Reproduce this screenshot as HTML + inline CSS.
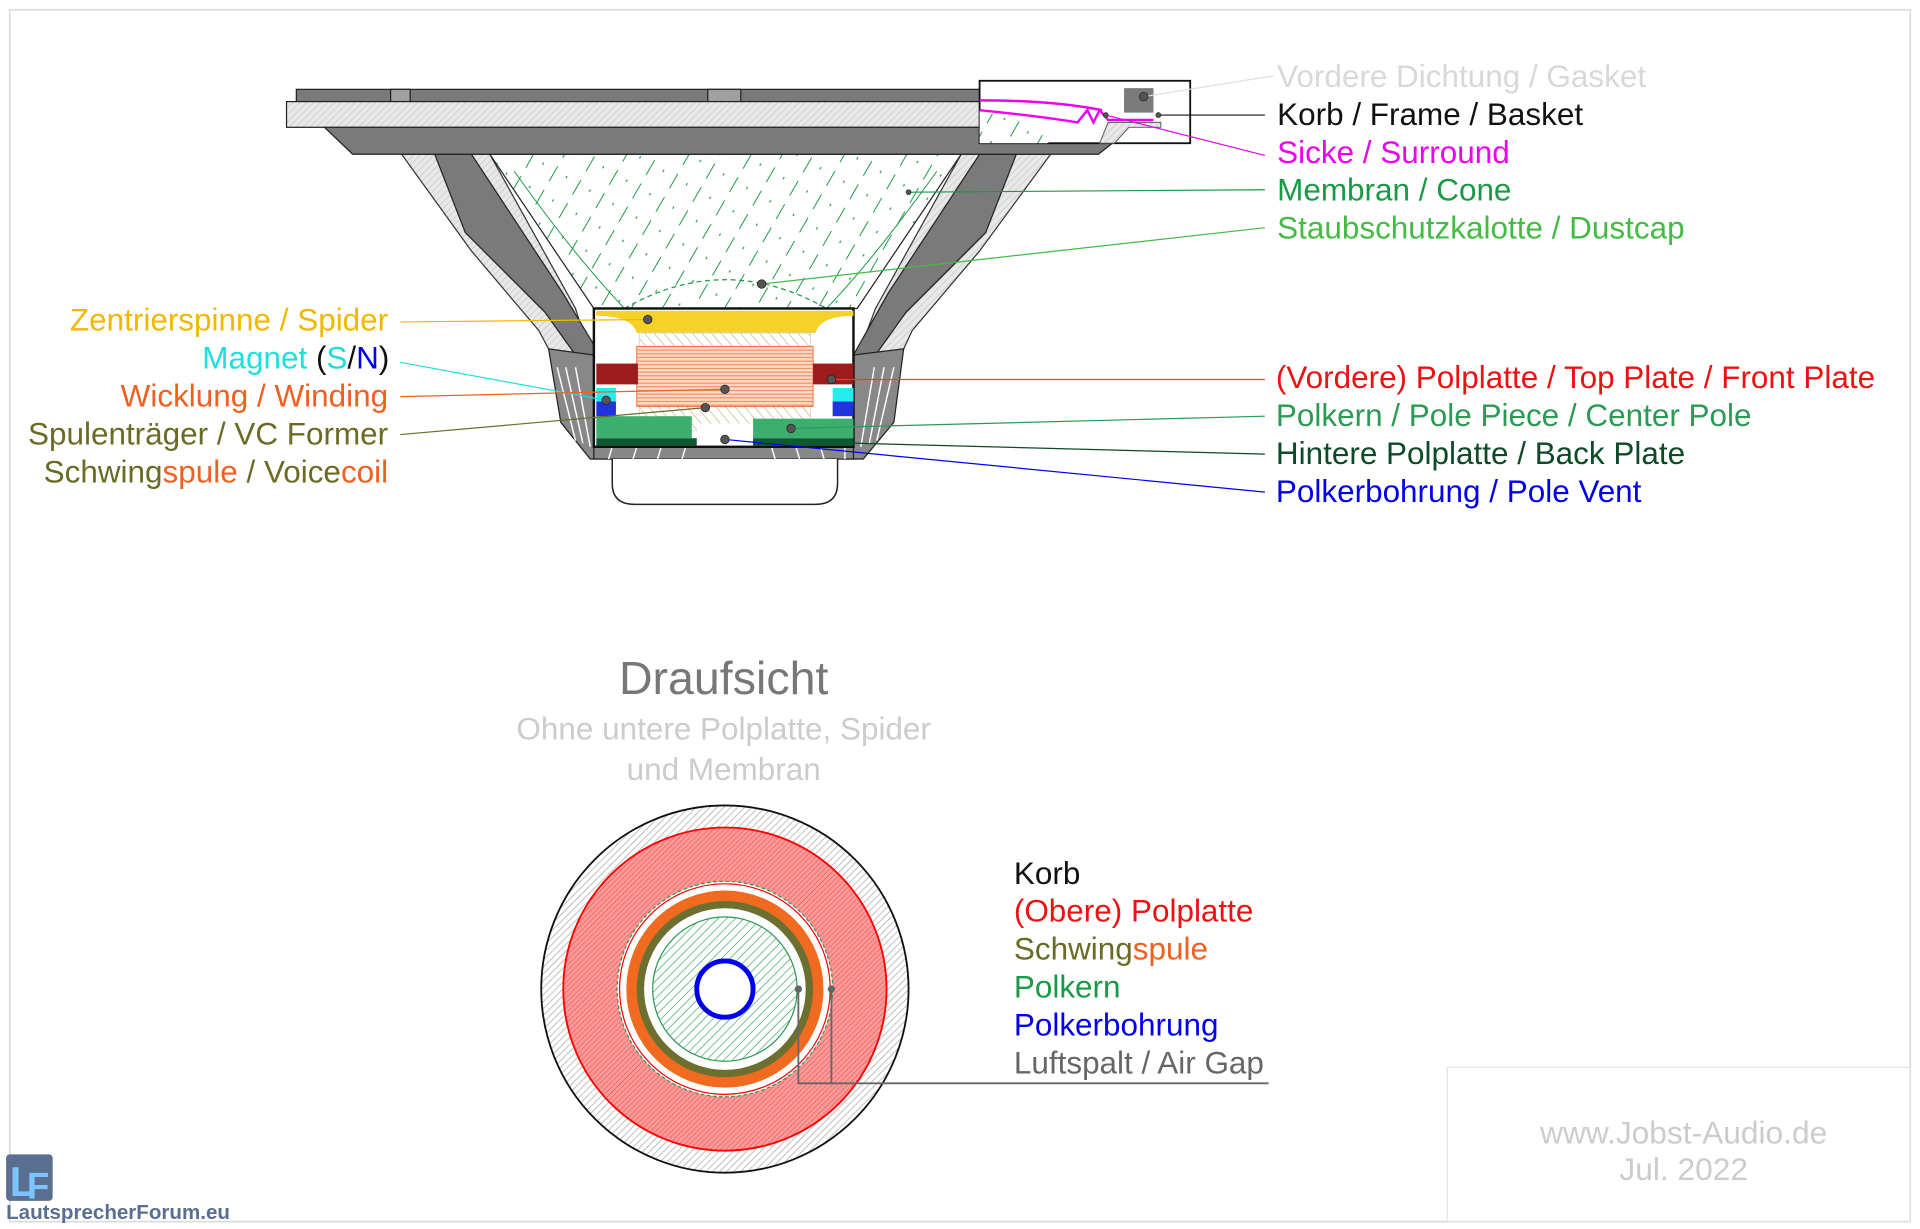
<!DOCTYPE html>
<html><head><meta charset="utf-8"><style>
html,body{margin:0;padding:0;background:#fff;}
svg{display:block;}
text{font-family:"Liberation Sans",Arial,sans-serif;}
</style></head><body>
<svg width="1920" height="1229" viewBox="0 0 1568 1004" preserveAspectRatio="none" xmlns="http://www.w3.org/2000/svg">
<defs>
<pattern id="hg" width="4" height="4" patternUnits="userSpaceOnUse" patternTransform="rotate(45)"><rect width="4" height="4" fill="#e8e8e8"/><line x1="0" y1="0" x2="0" y2="4" stroke="#c8c8c8" stroke-width="1.2"/></pattern>
<pattern id="hgd" width="4" height="4" patternUnits="userSpaceOnUse" patternTransform="rotate(45)"><rect width="4" height="4" fill="#fff"/><line x1="0" y1="0" x2="0" y2="4" stroke="#aaa" stroke-width="1.2"/></pattern>
<pattern id="hr" width="3" height="3" patternUnits="userSpaceOnUse" patternTransform="rotate(45)"><rect width="3" height="3" fill="#fa9a9a"/><line x1="0" y1="0" x2="0" y2="3" stroke="#f33" stroke-width="0.7"/></pattern>
<pattern id="hgr" width="5" height="5" patternUnits="userSpaceOnUse" patternTransform="rotate(45)"><rect width="5" height="5" fill="#fff"/><line x1="0" y1="0" x2="0" y2="5" stroke="#2a9a55" stroke-width="1"/></pattern>
<pattern id="cone" width="22" height="22" patternUnits="userSpaceOnUse" patternTransform="rotate(30)"><rect width="22" height="22" fill="#fff"/><line x1="0" y1="0" x2="0" y2="14" stroke="#1a9a45" stroke-width="1.6"/><line x1="11" y1="3" x2="11" y2="5" stroke="#1a9a45" stroke-width="1"/></pattern>
<pattern id="hol" width="6" height="6" patternUnits="userSpaceOnUse" patternTransform="rotate(-40)"><rect width="6" height="6" fill="#fff"/><line x1="0" y1="0" x2="0" y2="6" stroke="#b8b070" stroke-width="1"/></pattern>
<pattern id="hor" width="3" height="3" patternUnits="userSpaceOnUse"><rect width="3" height="3" fill="#fcd9c4"/><line x1="0" y1="1" x2="3" y2="1" stroke="#f08050" stroke-width="0.8"/></pattern>
</defs>
<rect x="8" y="8" width="1552" height="990" fill="none" stroke="#ddd" stroke-width="1.5"/>

<!-- basket arms -->
<polygon points="328,126 400,126 470,252 485,300 448,285 440,270 385,205" fill="url(#hg)" stroke="#333" stroke-width="1"/>
<polygon points="355,126 385,126 460,240 490,290 470,290 445,255 380,190" fill="#7a7a7a" stroke="#222" stroke-width="1"/>
<polygon points="858,126 785,126 715,252 697,300 738,285 745,270 800,205" fill="url(#hg)" stroke="#333" stroke-width="1"/>
<polygon points="830,126 800,126 725,240 697,290 715,290 740,255 805,190" fill="#7a7a7a" stroke="#222" stroke-width="1"/>
<!-- cone -->
<polygon points="400,126 785,126 700,252 485,252" fill="url(#cone)" stroke="#222" stroke-width="1"/>
<path d="M420,140 Q470,210 510,252 M765,140 Q715,210 675,252" stroke="#1a9a45" stroke-width="0.8" fill="none"/>
<path d="M510,252 Q592,205 675,252" stroke="#1a9a45" stroke-width="1" stroke-dasharray="4,3" fill="none"/>
<!-- top frame -->
<rect x="242" y="73" width="558" height="10" fill="#7a7a7a" stroke="#222"/>
<rect x="319" y="73" width="16" height="10" fill="#a0a0a0" stroke="#222"/>
<rect x="578" y="73" width="27" height="10" fill="#a0a0a0" stroke="#222"/>
<rect x="234" y="83" width="716" height="21" fill="url(#hg)" stroke="#222"/>
<polygon points="265,104 925,104 897,126 288,126" fill="#7a7a7a" stroke="#222"/>
<!-- inset box -->
<rect x="800" y="66" width="172" height="51" fill="#fff" stroke="#111" stroke-width="1.5"/>
<rect x="918" y="72" width="24" height="20" fill="#7a7a7a"/>
<polygon points="800,90 870,110 855,117 800,117" fill="url(#cone)"/>
<path d="M800,82 Q860,82 900,90 M800,90 Q850,95 880,100 L888,90 L893,100 L898,90 L905,98 L942,98" stroke="#e0e" stroke-width="2" fill="none"/>
<polygon points="905,100 948,100 948,104 922,104 910,117 898,117" fill="url(#hg)" stroke="#555" stroke-width="0.8"/>
<!-- fins/motor housing -->
<polygon points="448,285 485,290 485,365 497,375 482,375 458,345" fill="#888" stroke="#222"/>
<polygon points="738,285 697,290 697,365 690,375 705,375 730,345" fill="#888" stroke="#222"/>
<g stroke="#fff" stroke-width="1.2">
<line x1="455" y1="300" x2="470" y2="360"/><line x1="462" y1="300" x2="476" y2="362"/><line x1="470" y1="300" x2="482" y2="365"/>
<line x1="730" y1="300" x2="716" y2="360"/><line x1="722" y1="300" x2="710" y2="362"/><line x1="714" y1="300" x2="703" y2="365"/>
</g>
<rect x="485" y="365" width="212" height="10" fill="#888" stroke="#222"/>
<g stroke="#fff" stroke-width="1.2"><line x1="500" y1="365" x2="497" y2="375"/><line x1="520" y1="365" x2="517" y2="375"/><line x1="540" y1="365" x2="537" y2="375"/><line x1="560" y1="365" x2="557" y2="375"/><line x1="630" y1="365" x2="633" y2="375"/><line x1="650" y1="365" x2="653" y2="375"/><line x1="670" y1="365" x2="673" y2="375"/><line x1="690" y1="365" x2="690" y2="375"/></g>
<path d="M500,375 L500,395 Q500,412 518,412 L666,412 Q684,412 684,395 L684,375" fill="#fff" stroke="#222" stroke-width="1.2"/>
<!-- motor box -->
<rect x="485" y="252" width="212" height="113" fill="#fff" stroke="#111" stroke-width="2"/>
<path d="M487,254 L697,254 L697,258 Q670,258 666,272 L520,272 Q516,258 487,258 Z" fill="#f5d22a"/>
<rect x="520" y="257" width="145" height="15" fill="#f5d22a"/>
<rect x="522" y="272" width="140" height="80" fill="url(#hol)" stroke="#ccc" stroke-width="0.6"/>
<rect x="520" y="283" width="144" height="49" fill="url(#hor)" stroke="#f07040" stroke-width="0.8"/>
<rect x="487" y="297" width="34" height="17" fill="#9b1c1c"/>
<rect x="664" y="297" width="33" height="17" fill="#9b1c1c"/>
<rect x="487" y="317" width="16" height="11" fill="#22eeee"/><rect x="487" y="328" width="16" height="12" fill="#2233dd"/>
<rect x="680" y="317" width="17" height="11" fill="#22eeee"/><rect x="680" y="328" width="17" height="12" fill="#2233dd"/>
<rect x="487" y="340" width="78" height="18" fill="#3cae6e"/>
<rect x="615" y="342" width="82" height="16" fill="#3cae6e"/>
<rect x="569" y="346" width="46" height="16" fill="#fff"/>
<rect x="487" y="358" width="82" height="6" fill="#0d5a30"/><rect x="615" y="358" width="82" height="6" fill="#0d5a30"/>

<!-- leader lines -->
<g stroke-width="1" fill="none">
<line x1="934" y1="79" x2="1040" y2="62" stroke="#ddd"/>
<line x1="946" y1="94" x2="1033" y2="94" stroke="#111"/>
<line x1="903" y1="94" x2="1033" y2="127" stroke="#e0e"/>
<line x1="742" y1="157" x2="1033" y2="155" stroke="#1a9a45"/>
<line x1="622" y1="232" x2="1033" y2="186" stroke="#44bb44"/>
<line x1="529" y1="261" x2="327" y2="263" stroke="#f0b800"/>
<line x1="495" y1="327" x2="327" y2="296" stroke="#22dddd"/>
<line x1="592" y1="318" x2="327" y2="324" stroke="#f06020"/>
<line x1="576" y1="333" x2="327" y2="355" stroke="#6b6b25"/>
<line x1="679" y1="310" x2="1033" y2="310" stroke="#f33"/>
<line x1="646" y1="350" x2="1033" y2="340" stroke="#2a9a55"/>
<line x1="697" y1="362" x2="1033" y2="371" stroke="#0d4a28"/>
<line x1="592" y1="359" x2="1033" y2="402" stroke="#0000ee"/>
</g>
<g fill="#555" stroke="#222" stroke-width="0.6">
<circle cx="934" cy="79" r="3.5"/><circle cx="946" cy="94" r="2"/><circle cx="903" cy="94" r="2"/><circle cx="742" cy="157" r="2"/>
<circle cx="622" cy="232" r="3.5"/><circle cx="529" cy="261" r="3.5"/><circle cx="495" cy="327" r="3.5"/><circle cx="592" cy="318" r="3.5"/>
<circle cx="576" cy="333" r="3.5"/><circle cx="679" cy="310" r="3.5"/><circle cx="646" cy="350" r="3.5"/><circle cx="592" cy="359" r="3.5"/>
</g>

<!-- right labels -->
<g font-size="25.7">
<text x="1043" y="71" fill="#d8d8d8">Vordere Dichtung / Gasket</text>
<text x="1043" y="102" fill="#111">Korb / Frame / Basket</text>
<text x="1043" y="133" fill="#ee00ee">Sicke / Surround</text>
<text x="1043" y="164" fill="#1a9a45">Membran / Cone</text>
<text x="1043" y="195" fill="#44bb44">Staubschutzkalotte / Dustcap</text>
<text x="1042" y="317" fill="#ee1111">(Vordere) Polplatte / Top Plate / Front Plate</text>
<text x="1042" y="348" fill="#2a9a55">Polkern / Pole Piece / Center Pole</text>
<text x="1042" y="379" fill="#0d4a28">Hintere Polplatte / Back Plate</text>
<text x="1042" y="410" fill="#0000ee">Polkerbohrung / Pole Vent</text>
</g>
<!-- left labels -->
<g font-size="25.7" text-anchor="end">
<text x="317" y="270" fill="#f0b800">Zentrierspinne / Spider</text>
<text x="318" y="301"><tspan fill="#22dddd">Magnet </tspan><tspan fill="#111">(</tspan><tspan fill="#22dddd">S</tspan><tspan fill="#111">/</tspan><tspan fill="#0000ee">N</tspan><tspan fill="#111">)</tspan></text>
<text x="317" y="332" fill="#f06020">Wicklung / Winding</text>
<text x="317" y="363" fill="#6b6b25">Spulenträger / VC Former</text>
<text x="317" y="394"><tspan fill="#6b6b25">Schwing</tspan><tspan fill="#f06020">spule</tspan><tspan fill="#6b6b25"> / Voice</tspan><tspan fill="#f06020">coil</tspan></text>
</g>

<!-- top view -->
<text x="591" y="567" font-size="38" fill="#777" text-anchor="middle">Draufsicht</text>
<text x="591" y="604" font-size="25.7" fill="#ccc" text-anchor="middle">Ohne untere Polplatte, Spider</text>
<text x="591" y="637" font-size="25.7" fill="#ccc" text-anchor="middle">und Membran</text>
<circle cx="592" cy="808" r="150" fill="url(#hgd)" stroke="#111" stroke-width="1.5"/>
<circle cx="592" cy="808" r="132" fill="url(#hr)" stroke="#f00" stroke-width="1.5"/>
<circle cx="592" cy="808" r="88" fill="#fff" stroke="#2a9a55" stroke-width="1" stroke-dasharray="3,2"/>
<circle cx="592" cy="808" r="86" fill="#fff" stroke="#f00" stroke-width="1"/>
<circle cx="592" cy="808" r="76" fill="none" stroke="#f06a20" stroke-width="9"/>
<circle cx="592" cy="808" r="69" fill="none" stroke="#6b7030" stroke-width="6"/>
<circle cx="592" cy="808" r="62" fill="#fff"/>
<circle cx="592" cy="808" r="59" fill="url(#hgr)" stroke="#2a9a55" stroke-width="1"/>
<circle cx="592" cy="808" r="23" fill="#fff" stroke="#0000ee" stroke-width="4"/>
<polyline points="652,808 652,885 1036,885" fill="none" stroke="#666" stroke-width="1.5"/>
<line x1="679" y1="808" x2="679" y2="885" stroke="#666" stroke-width="1.5"/>
<circle cx="652" cy="808" r="3" fill="#666"/><circle cx="679" cy="808" r="3" fill="#666"/>
<g font-size="25.7">
<text x="828" y="722" fill="#111">Korb</text>
<text x="828" y="753" fill="#ee1111">(Obere) Polplatte</text>
<text x="828" y="784"><tspan fill="#6b6b25">Schwing</tspan><tspan fill="#f06020">spule</tspan></text>
<text x="828" y="815" fill="#1a9a45">Polkern</text>
<text x="828" y="846" fill="#0000ee">Polkerbohrung</text>
<text x="828" y="877" fill="#666">Luftspalt / Air Gap</text>
</g>
<rect x="1182" y="872" width="378" height="126" fill="none" stroke="#e4e4e4" stroke-width="1"/>
<text x="1375" y="934" font-size="25.9" fill="#ccc" text-anchor="middle">www.Jobst-Audio.de</text>
<text x="1375" y="964" font-size="25.9" fill="#ccc" text-anchor="middle">Jul. 2022</text>
<!-- logo -->
<rect x="5" y="943" width="38" height="38" rx="3" fill="#5a6f8f"/>
<text x="8" y="977" font-size="34" font-weight="bold" fill="#7cc4ff">L</text>
<text x="22" y="979" font-size="30" font-weight="bold" fill="#7cc4ff">F</text>
<text x="5" y="996" font-size="16.8" font-weight="bold" fill="#5a6f8f">LautsprecherForum.eu</text>
</svg>
</body></html>
